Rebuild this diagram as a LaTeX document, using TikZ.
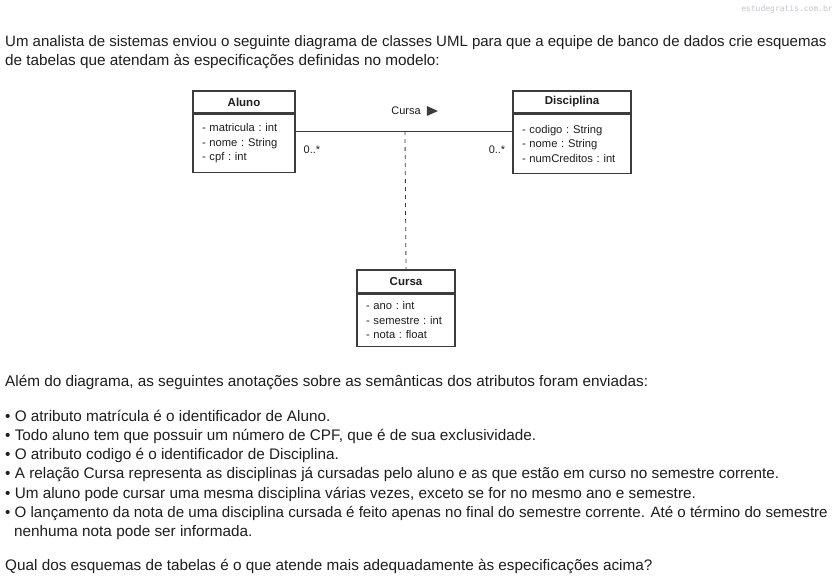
\documentclass[tikz,border=0pt]{standalone}
\usepackage{fontspec}
\setmainfont{Liberation Sans}
\newfontfamily\wmfont{DejaVu Sans Mono}
\usetikzlibrary{positioning,calc}
\definecolor{ink}{HTML}{1e1e1e}
\definecolor{ink2}{HTML}{3c3c3c}
\definecolor{wm}{HTML}{c4c6cc}
\tikzset{
  txt/.style={anchor=base west,inner sep=0pt,font=\fontsize{15.3}{18}\selectfont,text=ink},
  clshead/.style={draw=ink2,line width=1.4pt,fill=white,inner sep=0pt,font=\fontsize{11.5}{13}\selectfont\bfseries,text=ink},
  clsbody/.style={draw=ink2,line width=1.4pt,fill=white,inner sep=0pt,align=left,font=\fontsize{11.2}{14.5}\selectfont\frenchspacing,text=ink,anchor=north},
  assoc/.style={line width=0.9pt,draw=ink2},
  lab/.style={inner sep=0pt,font=\fontsize{11}{12}\selectfont,text=ink},
}
\begin{document}
\begin{tikzpicture}[x=1pt,y=-1pt]
\useasboundingbox[fill=white] (0,0) rectangle (838,581);
\node[anchor=base east,inner sep=0pt,font=\fontsize{8}{10}\selectfont\wmfont,text=wm] (wmark) at (833,11) {estudegratis.com.br};
% enunciado
\node[txt,font=\fontsize{15}{18}\selectfont] (intro1) at (5,46) {Um analista de sistemas enviou o seguinte diagrama de classes UML para que a equipe de banco de dados crie esquemas};
\node[txt] (intro2) at (5,65) {de tabelas que atendam às especificações definidas no modelo:};
% diagrama de classes
\node[clshead,minimum width=102pt,minimum height=22pt] (alunoH) at (244,102) {Aluno};
\node[clsbody,minimum width=102pt,minimum height=58pt,text width=84pt] (aluno) at (alunoH.south) {- matricula : int\\- nome : String\\- cpf : int};
\node[clshead,minimum width=118pt,minimum height=22pt] (discH) at (572,102) {Disciplina};
\node[clsbody,minimum width=118pt,minimum height=59pt,text width=100pt] (disc) at (discH.south) {- codigo : String\\- nome : String\\- numCreditos : int};
\node[clshead,minimum width=98pt,minimum height=23pt] (cursaH) at (406,281.5) {Cursa};
\node[clsbody,minimum width=98pt,minimum height=52pt,text width=80pt] (cursa) at (cursaH.south) {- ano : int\\- semestre : int\\- nota : float};
\coordinate (mid) at (405,131);
\draw[assoc] (mid -| aluno.east) -- (mid -| disc.west);
\draw[assoc,line width=0.8pt,dash pattern=on 4pt off 4pt] (mid) -- (cursaH.north);
\node[lab] (cursaLbl) at (406,111) {Cursa};
\fill[ink2] ($(cursaLbl.east)+(6,-5)$) -- ++(0,10) -- ++(11,-5) -- cycle;
\node[lab] (multA) at (312,150) {0..*};
\node[lab] (multD) at (497,150) {0..*};
% anotacoes
\node[txt] (notes) at (5,386) {Além do diagrama, as seguintes anotações sobre as semânticas dos atributos foram enviadas:};
\node[txt] (b1) at (5,421) {• O atributo matrícula é o identificador de Aluno.};
\node[txt] (b2) at (5,440.3) {• Todo aluno tem que possuir um número de CPF, que é de sua exclusividade.};
\node[txt] (b3) at (5,459.6) {• O atributo codigo é o identificador de Disciplina.};
\node[txt] (b4) at (5,478.9) {• A relação Cursa representa as disciplinas já cursadas pelo aluno e as que estão em curso no semestre corrente.};
\node[txt] (b5) at (5,498.2) {• Um aluno pode cursar uma mesma disciplina várias vezes, exceto se for no mesmo ano e semestre.};
\node[txt,font=\fontsize{15.1}{18}\selectfont] (b6) at (5,517.5) {• O lançamento da nota de uma disciplina cursada é feito apenas no final do semestre corrente. Até o término do semestre};
\node[txt] (b6b) at (14,536.8) {nenhuma nota pode ser informada.};
\node[txt] (question) at (5,570) {Qual dos esquemas de tabelas é o que atende mais adequadamente às especificações acima?};
\end{tikzpicture}
\end{document}
